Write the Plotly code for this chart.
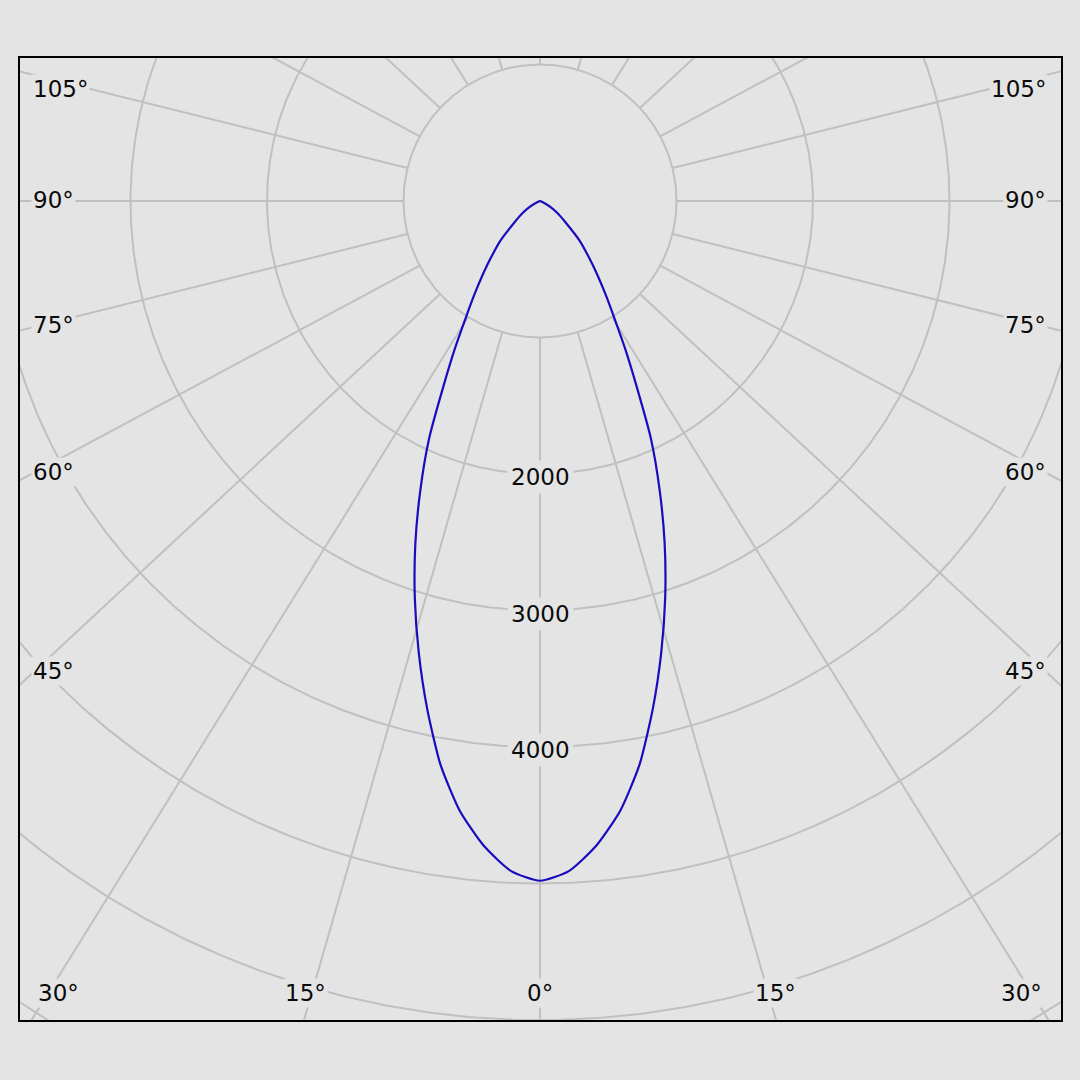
import numpy as np
import plotly.graph_objects as go

# ---------------- data ----------------
gamma_deg = [0, 2.5, 5, 7.5, 10, 12.5, 15, 17.5, 20, 22.5, 25, 27.5, 30, 32.5,
             35, 37.5, 40, 45, 50, 55, 60, 65, 70, 75, 80, 90, 120, 150, 180]
intensity_left = [4980, 4912, 4740, 4505, 4195, 3815, 3430, 3050, 2670, 2290,
                  1925, 1535, 1245, 1010, 840, 700, 586, 410, 245, 160, 90, 30,
                  0, 0, 0, 0, 0, 0, 0]
intensity_right = [4980, 4912, 4740, 4505, 4195, 3815, 3430, 3050, 2670, 2290,
                   1925, 1535, 1245, 1010, 840, 700, 586, 410, 245, 160, 90, 30,
                   0, 0, 0, 0, 0, 0, 0]

ring_values = [1000, 2000, 3000, 4000, 5000, 6000, 7000]
ring_labels = ["2000", "3000", "4000"]
spoke_angles = list(range(0, 360, 15))
side_labels = ["105°", "90°", "75°", "60°", "45°"]
bottom_labels = ["30°", "15°", "0°", "15°", "30°"]

# ---------------- styling / geometry ----------------
BG = "#e4e4e4"
GRID = "#c0c0c0"
CURVE = "#1a0cbe"
FONT = dict(family="DejaVu Sans", size=23, color="#0a0a0a")
PX_PER_UNIT = 136.5 / 1000.0
SPOKE_ASPECT = 0.93      # spokes in the reference are slightly flattened
W = H = 1080
L, R, T, B = 20, 19, 58, 60
CX, CY = 540, 201          # pixel position of the pole

def px_to_data(px, py):
    return (px - CX) / PX_PER_UNIT, (CY - py) / PX_PER_UNIT

x0, y1 = px_to_data(L, T)
x1, y0 = px_to_data(W - R, H - B)

fig = go.Figure()

# rings
th = np.linspace(0, 2 * np.pi, 721)
rx, ry = [], []
for rv in ring_values:
    rx += list(rv * np.sin(th)) + [None]
    ry += list(rv * np.cos(th)) + [None]
fig.add_trace(go.Scatter(x=rx, y=ry, mode="lines", hoverinfo="skip",
                         line=dict(color=GRID, width=2), showlegend=False))

# spokes (from inner ring outward)
sx, sy = [], []
r_in, r_out = ring_values[0], 9000
for a in spoke_angles:
    t = np.radians(a)
    dx, dy = np.sin(t), -np.cos(t) * SPOKE_ASPECT
    n = np.hypot(dx, dy)
    dx, dy = dx / n, dy / n
    sx += [r_in * dx, r_out * dx, None]
    sy += [r_in * dy, r_out * dy, None]
fig.add_trace(go.Scatter(x=sx, y=sy, mode="lines", hoverinfo="skip",
                         line=dict(color=GRID, width=2), showlegend=False))

# luminous intensity curve
g = np.radians(np.array(gamma_deg, dtype=float))
il = np.array(intensity_left, dtype=float)
ir = np.array(intensity_right, dtype=float)
cx = np.concatenate([(-il * np.sin(g))[::-1], (ir * np.sin(g))[1:]])
cy = np.concatenate([(-il * np.cos(g))[::-1], (-ir * np.cos(g))[1:]])
fig.add_trace(go.Scatter(x=cx, y=cy, mode="lines", showlegend=False,
                         line=dict(color=CURVE, width=2.2, shape="spline", smoothing=0.6)))

annotations = []
for lab in ring_labels:
    annotations.append(dict(x=0, y=-float(lab), xref="x", yref="y", text=lab,
                            showarrow=False, font=FONT, bgcolor=BG, borderpad=3,
                            yshift=-3))

def paper(px, py):
    return (px - L) / (W - L - R), (H - B - py) / (H - T - B)

side_y = [89, 200, 325, 472, 671]
for lab, py in zip(side_labels, side_y):
    xl, yl = paper(31, py)
    annotations.append(dict(x=xl, y=yl, xref="paper", yref="paper", text=lab,
                            showarrow=False, font=FONT, bgcolor=BG, borderpad=1,
                            xanchor="left", yanchor="middle"))
    xr, yr = paper(1048, py)
    annotations.append(dict(x=xr, y=yr, xref="paper", yref="paper", text=lab,
                            showarrow=False, font=FONT, bgcolor=BG, borderpad=1,
                            xanchor="right", yanchor="middle"))

bottom_x = [58, 305, 540, 775, 1021]
for lab, px in zip(bottom_labels, bottom_x):
    xb, yb = paper(px, 993)
    annotations.append(dict(x=xb, y=yb, xref="paper", yref="paper", text=lab,
                            showarrow=False, font=FONT, bgcolor=BG, borderpad=1,
                            xanchor="center", yanchor="middle"))

axis_common = dict(showgrid=False, zeroline=False, showticklabels=False,
                   ticks="", showline=True, mirror=True, linecolor="black",
                   linewidth=1.5, fixedrange=True)
fig.update_layout(
    width=W, height=H,
    margin=dict(l=L, r=R, t=T, b=B, pad=0),
    paper_bgcolor=BG, plot_bgcolor=BG,
    xaxis=dict(range=[x0, x1], **axis_common),
    yaxis=dict(range=[y0, y1], **axis_common),
    annotations=annotations,
    showlegend=False,
)

fig.write_html(
    "out.html",
    config={"displayModeBar": False},
    post_script="document.body.style.margin='0';document.body.style.background='%s';" % BG,
)
